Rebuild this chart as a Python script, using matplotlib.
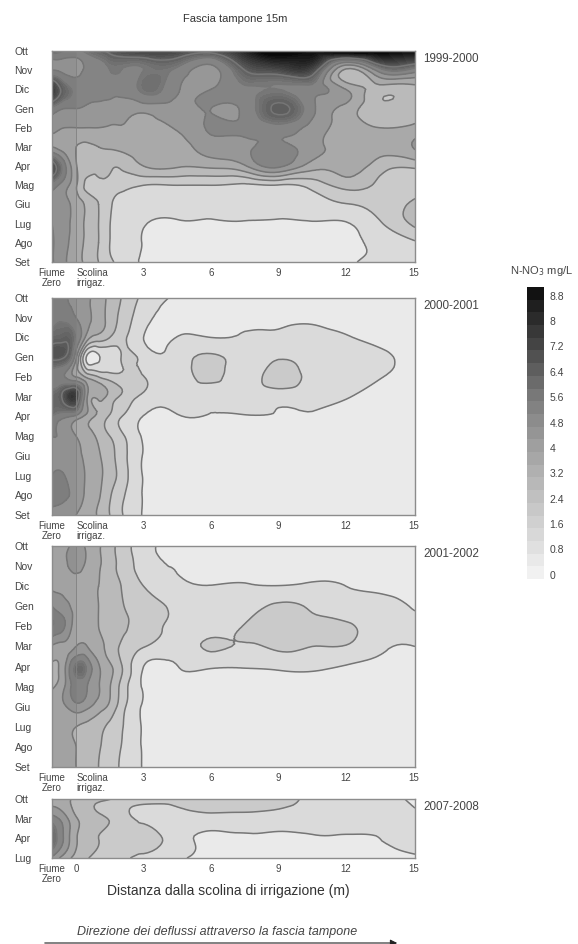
import numpy as np
import matplotlib
matplotlib.use('Agg')
import matplotlib.pyplot as plt
import matplotlib.tri as mtri
from matplotlib.colors import LinearSegmentedColormap, Normalize

W, H = 578, 944

plt.rcParams['font.family'] = ['Liberation Sans', 'DejaVu Sans']

# distance columns (m), Fiume Zero is the left edge
x_m = [-1.07, -0.5, 0, 0.5, 1, 1.5, 2, 3, 4.5, 6, 7.5, 9, 10.5, 12, 13.5, 15.07]

months = ['Ott', 'Nov', 'Dic', 'Gen', 'Feb', 'Mar', 'Apr', 'Mag', 'Giu', 'Lug', 'Ago', 'Set']
months_short = ['Ott', 'Mar', 'Apr', 'Lug']

nno3_1999 = [
    [6.0, 5.6, 5.5, 5.8, 6.2, 6.6, 7.0, 7.4, 7.2, 6.8, 8.2, 9.8, 9.0, 10.0, 9.5, 9.0],
    [4.8, 4.5, 4.4, 5.0, 5.2, 5.6, 5.6, 5.6, 5.4, 4.5, 6.4, 7.0, 7.0, 3.0, 5.2, 5.2],
    [7.5, 6.0, 5.4, 5.2, 5.1, 5.1, 5.0, 5.8, 4.9, 4.8, 5.4, 5.6, 5.2, 4.0, 2.8, 2.9],
    [5.4, 4.8, 4.8, 4.6, 4.5, 4.4, 4.4, 4.3, 4.5, 4.8, 5.0, 6.6, 5.0, 3.7, 2.6, 2.8],
    [4.3, 4.0, 4.0, 4.0, 4.0, 3.95, 3.95, 3.8, 4.1, 4.9, 4.9, 5.3, 4.5, 3.6, 3.2, 3.4],
    [4.0, 3.5, 3.2, 3.0, 3.2, 3.3, 3.4, 3.6, 3.7, 4.4, 4.6, 5.1, 4.3, 3.7, 3.5, 4.1],
    [7.0, 5.0, 3.3, 2.6, 2.6, 2.5, 2.5, 3.2, 3.3, 3.4, 3.9, 5.0, 3.6, 3.6, 2.8, 2.6],
    [5.2, 4.3, 3.3, 2.2, 2.2, 2.1, 1.9, 1.6, 1.6, 1.6, 1.45, 1.55, 1.9, 2.7, 2.2, 2.0],
    [4.8, 4.2, 3.7, 3.0, 2.4, 1.7, 1.4, 1.1, 1.0, 0.95, 0.95, 0.9, 1.25, 1.55, 1.9, 2.6],
    [4.8, 4.2, 3.7, 3.0, 2.4, 1.62, 1.3, 0.85, 0.75, 0.75, 0.75, 0.7, 0.72, 0.75, 1.5, 2.6],
    [4.9, 4.2, 3.6, 3.0, 2.4, 1.6, 1.3, 0.75, 0.6, 0.6, 0.6, 0.6, 0.6, 0.65, 1.0, 1.5],
    [4.9, 4.1, 3.5, 3.0, 2.4, 1.8, 1.3, 0.7, 0.5, 0.5, 0.5, 0.5, 0.55, 0.75, 0.9, 1.2],
]

nno3_2000 = [
    [5.0, 4.9, 4.4, 4.1, 3.6, 3.0, 2.4, 1.4, 0.7, 0.5, 0.5, 0.5, 0.5, 0.5, 0.5, 0.5],
    [5.2, 5.4, 4.8, 4.2, 3.6, 2.9, 2.2, 1.1, 0.6, 0.6, 0.65, 0.7, 0.72, 0.6, 0.5, 0.5],
    [6.0, 6.2, 5.5, 3.6, 2.9, 2.4, 1.9, 0.8, 0.82, 0.8, 0.85, 0.85, 0.95, 0.85, 0.6, 0.5],
    [6.6, 6.4, 4.2, 0.6, 0.7, 1.0, 1.6, 1.3, 1.1, 1.8, 1.1, 1.45, 1.2, 1.1, 0.95, 0.55],
    [5.0, 4.8, 4.0, 3.0, 2.4, 2.0, 1.8, 1.62, 1.15, 1.85, 1.1, 2.1, 1.2, 1.1, 0.85, 0.55],
    [6.0, 6.8, 7.2, 4.0, 3.4, 2.9, 2.3, 1.4, 1.05, 1.05, 1.05, 1.1, 1.0, 0.85, 0.55, 0.5],
    [5.6, 5.0, 4.6, 3.7, 3.0, 2.3, 1.65, 0.78, 0.76, 0.76, 0.76, 0.76, 0.72, 0.55, 0.5, 0.5],
    [4.8, 4.6, 4.0, 3.6, 3.0, 2.4, 1.8, 0.7, 0.5, 0.5, 0.5, 0.5, 0.5, 0.5, 0.5, 0.5],
    [4.6, 4.5, 4.2, 3.8, 3.3, 2.7, 2.0, 0.75, 0.5, 0.5, 0.5, 0.5, 0.5, 0.5, 0.5, 0.5],
    [4.8, 4.8, 4.4, 3.9, 3.4, 2.8, 2.1, 0.75, 0.5, 0.5, 0.5, 0.5, 0.5, 0.5, 0.5, 0.5],
    [5.0, 4.9, 4.5, 3.8, 3.3, 2.5, 1.8, 0.75, 0.5, 0.5, 0.5, 0.5, 0.5, 0.5, 0.5, 0.5],
    [4.6, 4.5, 4.0, 3.6, 3.1, 2.4, 1.7, 0.75, 0.5, 0.5, 0.5, 0.5, 0.5, 0.5, 0.5, 0.5],
]

nno3_2001 = [
    [3.7, 3.8, 4.3, 3.8, 3.3, 2.7, 2.1, 1.1, 0.65, 0.5, 0.5, 0.5, 0.5, 0.5, 0.5, 0.5],
    [3.7, 3.8, 4.3, 3.8, 3.3, 2.7, 2.2, 1.2, 0.78, 0.55, 0.55, 0.55, 0.55, 0.55, 0.55, 0.5],
    [3.8, 3.8, 3.6, 3.5, 3.2, 2.8, 2.4, 1.6, 0.95, 0.82, 0.85, 0.82, 0.9, 0.8, 0.7, 0.6],
    [4.8, 4.2, 3.8, 3.5, 3.2, 2.9, 2.5, 1.95, 1.45, 1.05, 1.2, 1.75, 1.45, 1.05, 0.95, 0.75],
    [5.6, 4.8, 3.6, 3.5, 3.2, 2.9, 2.6, 2.0, 1.4, 1.2, 1.65, 2.0, 1.8, 1.75, 1.05, 0.95],
    [3.9, 3.7, 4.0, 4.0, 3.5, 2.9, 2.3, 1.65, 1.2, 1.7, 1.5, 1.75, 1.6, 1.55, 0.95, 0.8],
    [3.1, 3.9, 5.8, 5.4, 4.1, 3.35, 2.5, 0.8, 0.78, 0.9, 0.85, 0.95, 0.95, 0.75, 0.6, 0.55],
    [3.1, 4.0, 5.2, 4.8, 4.05, 3.25, 2.2, 0.72, 0.5, 0.5, 0.5, 0.5, 0.5, 0.5, 0.5, 0.5],
    [3.4, 3.9, 4.5, 4.2, 3.6, 3.0, 2.0, 0.72, 0.5, 0.5, 0.5, 0.5, 0.5, 0.5, 0.5, 0.5],
    [3.6, 3.5, 3.2, 3.0, 2.7, 2.2, 1.7, 0.72, 0.5, 0.5, 0.5, 0.5, 0.5, 0.5, 0.5, 0.5],
    [3.7, 3.5, 3.2, 2.9, 2.5, 2.0, 1.6, 0.72, 0.5, 0.5, 0.5, 0.5, 0.5, 0.5, 0.5, 0.5],
    [3.7, 3.5, 3.2, 2.8, 2.4, 2.0, 1.5, 0.75, 0.5, 0.5, 0.5, 0.5, 0.5, 0.5, 0.5, 0.5],
]

nno3_2007 = [
    [3.6, 3.4, 3.0, 2.7, 2.5, 2.42, 2.2, 2.0, 2.0, 2.0, 1.95, 1.85, 1.45, 1.3, 1.1, 0.65],
    [5.2, 4.3, 3.3, 2.8, 2.55, 2.35, 2.0, 1.45, 1.4, 1.4, 1.38, 1.35, 1.25, 1.15, 1.1, 0.9],
    [6.2, 4.6, 3.3, 2.7, 2.4, 2.1, 1.85, 1.8, 1.2, 0.6, 0.7, 0.6, 0.72, 0.75, 0.8, 1.0],
    [4.6, 3.6, 2.9, 2.45, 2.1, 1.95, 1.75, 1.45, 0.95, 0.55, 0.5, 0.5, 0.5, 0.5, 0.55, 0.7],
]

years = ['1999-2000', '2000-2001', '2001-2002', '2007-2008']
bar_ticks = [0, 0.8, 1.6, 2.4, 3.2, 4, 4.8, 5.6, 6.4, 7.2, 8, 8.8]

line_levels = [0.8, 1.6, 2.4, 3.2, 4, 4.8, 5.6, 6.4]
fill_levels = [0, 0.8, 1.6, 2.4, 3.2, 4, 4.8, 5.6] + [round(5.6 + 0.2 * i, 1) for i in range(1, 22)]

cmap = LinearSegmentedColormap.from_list('nno3', [(0, '#f2f2f2'), (4 / 9.2, '#a1a1a1'), (5.6 / 9.2, '#7a7a7a'),
                                                  (7.2 / 9.2, '#474747'), (1, '#080808')])
norm = Normalize(0, 9.2)


def px_axes(left, top, right, bottom):
    return fig.add_axes([left / W, 1 - bottom / H, (right - left) / W, (bottom - top) / H])


def panel(top, bottom, data, labels, year, second_label, scolina=True):
    ax = px_axes(52, top, 415, bottom)
    z = np.array(data)
    y = np.arange(len(labels))
    xx, yy = np.meshgrid(x_m, y)
    # let the library smooth the contours over the values
    tri = mtri.Triangulation(xx.ravel(), yy.ravel())
    refiner = mtri.UniformTriRefiner(tri)
    tri_fine, z_fine = refiner.refine_field(z.ravel(), subdiv=3)
    ax.tricontourf(tri_fine, z_fine, levels=fill_levels, cmap=cmap, norm=norm, extend='both')
    ax.tricontour(tri_fine, z_fine, levels=line_levels, colors='#767676', linewidths=1.1)
    if scolina:
        ax.axvspan(-1.07, 0, color='black', alpha=0.04, lw=0)
        ax.axvline(0, color='#808080', lw=0.6)
    ax.set_xlim(-1.07, 15.07)
    ax.set_ylim(len(labels) - 1, 0)
    ax.set_yticks(y)
    ax.set_yticklabels(labels, fontsize=7.5, color='#444444', ha='left')
    ax.tick_params(axis='y', length=0, pad=27)
    ax.set_xticks([-1.07, 0, 3, 6, 9, 12, 15])
    ax.set_xticklabels(['Fiume\nZero', second_label, '3', '6', '9', '12', '15'],
                       fontsize=7, color='#444444', linespacing=1.1)
    ax.tick_params(axis='x', length=0, pad=4)
    if scolina:
        ax.get_xticklabels()[1].set_ha('left')
    for s in ax.spines.values():
        s.set_color('#8c8c8c')
        s.set_linewidth(1.0)
    fig.text(423 / W, 1 - (top + 8) / H, year, fontsize=8.4, color='#444444', va='center')
    return ax


fig = plt.figure(figsize=(W / 100, H / 100), dpi=100)

panel(51, 262, nno3_1999, months, years[0], 'Scolina\nirrigaz.')
panel(298, 515, nno3_2000, months, years[1], 'Scolina\nirrigaz.')
panel(546, 767, nno3_2001, months, years[2], 'Scolina\nirrigaz.')
panel(799, 858, nno3_2007, months_short, years[3], '0', scolina=False)

fig.text(235 / W, 1 - 19 / H, 'Fascia tampone 15m', fontsize=8, color='#333333', ha='center', va='center')
fig.text(228 / W, 1 - 891 / H, 'Distanza dalla scolina di irrigazione (m)', fontsize=10, color='#333333',
         ha='center', va='center')
fig.text(217 / W, 1 - 932 / H, 'Direzione dei deflussi attraverso la fascia tampone', fontsize=9,
         style='italic', color='#444444', ha='center', va='center')
fig.text(542 / W, 1 - 271 / H, 'N-NO$_3$ mg/L', fontsize=8, color='#444444', ha='center', va='center')

# arrow along the bottom edge
arrow_ax = px_axes(0, 936, W, H)
arrow_ax.set_xlim(0, W)
arrow_ax.set_ylim(H, 936)
arrow_ax.axis('off')
arrow_ax.annotate('', xy=(400, 943), xytext=(42, 943),
                  arrowprops=dict(arrowstyle='-|>', color='#222222', lw=0.8), annotation_clip=False)

# grey scale bar
bar = px_axes(527, 287, 544, 579)
bar_edges = np.arange(-0.13, 9.2, 0.4)
bar.pcolormesh([0, 1], bar_edges, (bar_edges[:-1] + 0.2).reshape(-1, 1), cmap=cmap, norm=norm)
bar.set_ylim(-0.13, bar_edges[-1])
bar.set_xticks([])
bar.yaxis.tick_right()
bar.set_yticks(bar_ticks)
bar.set_yticklabels([f'{t:g}' for t in bar_ticks], fontsize=7.5, color='#444444')
bar.tick_params(axis='y', length=0, pad=4)
for s in bar.spines.values():
    s.set_visible(False)

fig.savefig('out.png', dpi=100)
